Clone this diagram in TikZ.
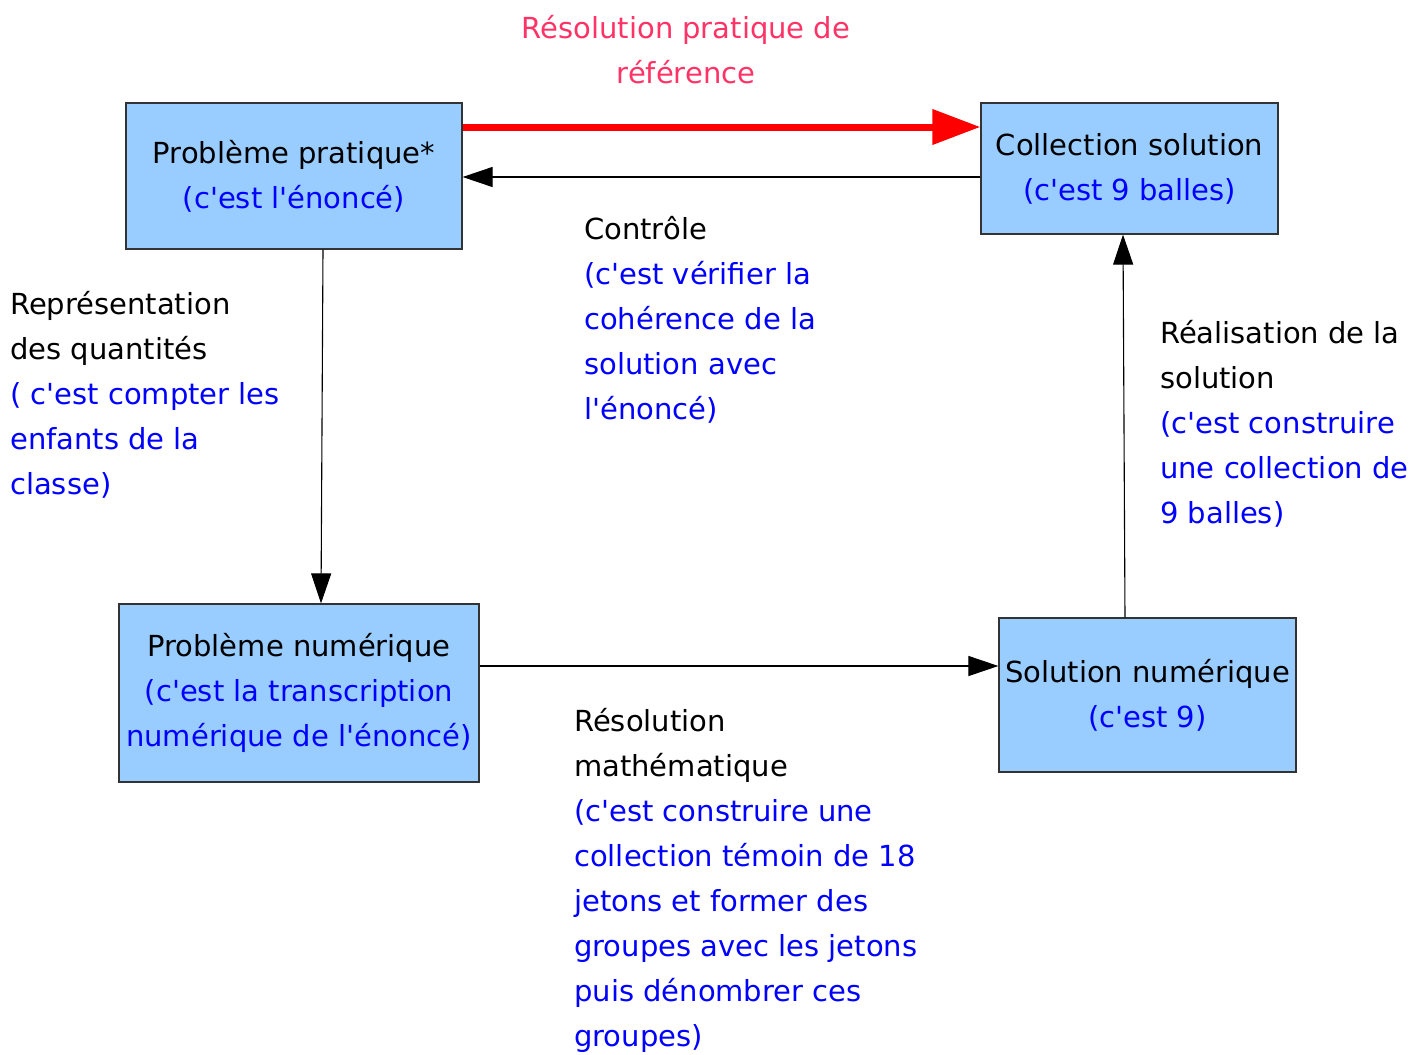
\documentclass[tikz,border=0pt]{standalone}
\usepackage{fontspec}
\setmainfont{DejaVu Sans}[Ligatures=TeXOff]
\usetikzlibrary{arrows.meta}
\definecolor{boxfill}{HTML}{99CCFF}
\definecolor{txtblue}{HTML}{0000FF}
\definecolor{titlered}{HTML}{FF3366}
\begin{document}
\begin{tikzpicture}[x=1pt,y=-1pt,
  box/.style={draw=black!80,line width=1.2pt,fill=boxfill,inner sep=0pt,align=center,
    font=\fontsize{29}{45}\selectfont},
  lbl/.style={anchor=base west,align=left,inner sep=0pt,font=\fontsize{29}{45}\selectfont},
  conn/.style={line width=1.1pt,-{Triangle[length=30pt,width=20pt]}}]
\useasboundingbox (0,0) rectangle (1428,1055);
\node[box,minimum width=336pt,minimum height=146pt] (pp) at (294,176)
  {Problème pratique*\\\textcolor{txtblue}{(c'est l'énoncé)}};
\node[box,minimum width=297pt,minimum height=131pt] (cs) at (1129.5,168.5)
  {Collection solution\\\textcolor{txtblue}{(c'est 9 balles)}};
\node[box,minimum width=360pt,minimum height=178pt] (pn) at (299,693)
  {Problème numérique\\\textcolor{txtblue}{(c'est la transcription}\\\textcolor{txtblue}{numérique de l'énoncé)}};
\node[box,minimum width=297pt,minimum height=154pt] (sn) at (1147.5,695)
  {Solution numérique\\\textcolor{txtblue}{(c'est 9)}};
\draw[red,line width=7pt,-{Triangle[length=48pt,width=34pt]}] (pp.north east|-0,127) -- (cs.west|-0,127);
\draw[conn] (cs.west|-0,177) -- (pp.east|-0,177);
\draw[conn] (pp.south-|323,0) -- (pn.north-|321,0);
\draw[conn] (pn.east|-0,666) -- (sn.west|-0,666);
\draw[conn] (sn.north-|1125,0) -- (cs.south-|1123,0);
\node[lbl,anchor=base,align=center,text=titlered] (title) at (686,83)
  {Résolution pratique de\\référence};
\node[lbl] (ctrl) at (584,419)
  {Contrôle\\\textcolor{txtblue}{(c'est vérifier la}\\\textcolor{txtblue}{cohérence de la}\\\textcolor{txtblue}{solution avec}\\\textcolor{txtblue}{l'énoncé)}};
\node[lbl] (repr) at (10,494)
  {Représentation\\des quantités\\\textcolor{txtblue}{( c'est compter les}\\\textcolor{txtblue}{enfants de la}\\\textcolor{txtblue}{classe)}};
\node[lbl] (real) at (1160,523)
  {Réalisation de la\\solution\\\textcolor{txtblue}{(c'est construire}\\\textcolor{txtblue}{une collection de}\\\textcolor{txtblue}{9 balles)}};
\node[lbl] (resm) at (574,1046)
  {Résolution\\mathématique\\\textcolor{txtblue}{(c'est construire une}\\\textcolor{txtblue}{collection témoin de 18}\\\textcolor{txtblue}{jetons et former des}\\\textcolor{txtblue}{groupes avec les jetons}\\\textcolor{txtblue}{puis dénombrer ces}\\\textcolor{txtblue}{groupes)}};
\end{tikzpicture}
\end{document}
